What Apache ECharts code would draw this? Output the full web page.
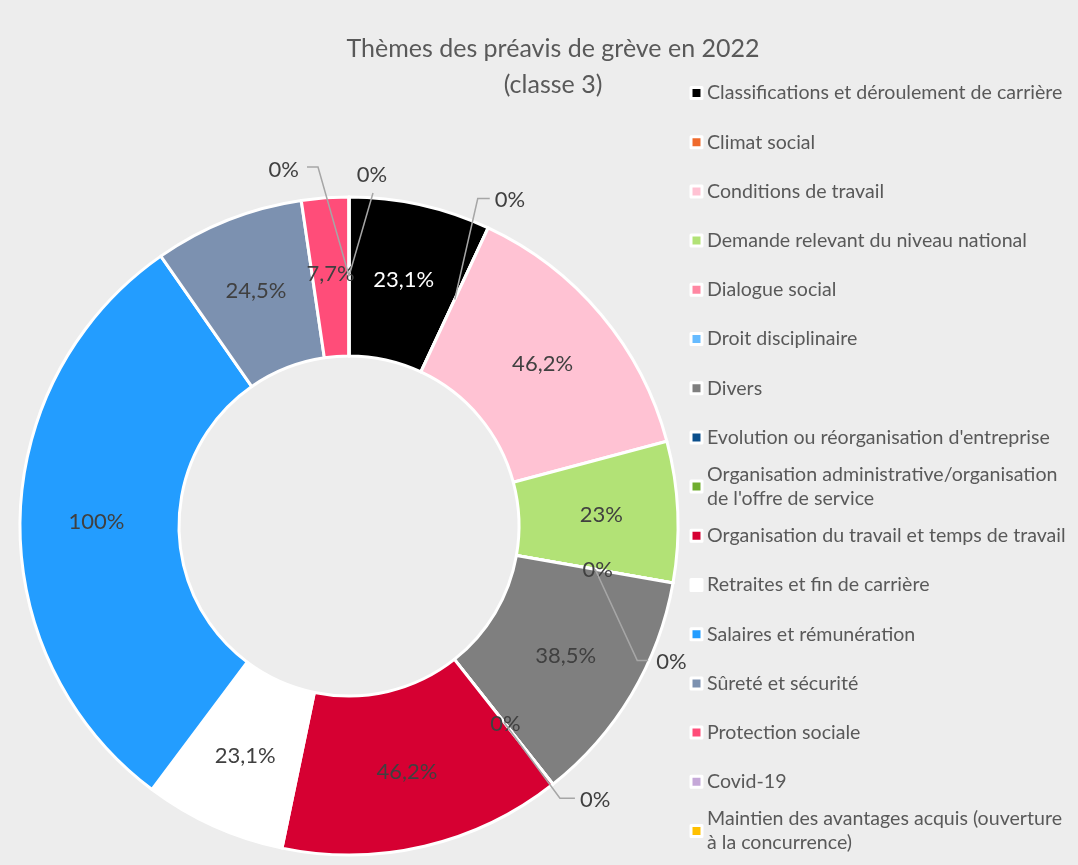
<!DOCTYPE html>
<html>
<head>
<meta charset="utf-8">
<script src="https://cdn.jsdelivr.net/npm/echarts@6/dist/echarts.min.js"></script>
<style>
html,body{margin:0;padding:0;background:#ededed;}
#chart{width:1078px;height:865px;}
</style>
</head>
<body>
<div id="chart"></div>
<script>
const categories = [
  "Classifications et déroulement de carrière",
  "Climat social",
  "Conditions de travail",
  "Demande relevant du niveau national",
  "Dialogue social",
  "Droit disciplinaire",
  "Divers",
  "Evolution ou réorganisation d'entreprise",
  "Organisation administrative/organisation de l'offre de service",
  "Organisation du travail et temps de travail",
  "Retraites et fin de carrière",
  "Salaires et rémunération",
  "Sûreté et sécurité",
  "Protection sociale",
  "Covid-19",
  "Maintien des avantages acquis (ouverture à la concurrence)"
];
const values = [23.1, 0, 46.2, 23, 0, 0, 38.5, 0, 0, 46.2, 23.1, 100, 24.5, 7.7, 0, 0];
const colors = ["#000000","#ef6a2c","#ffc2d3","#b2e276","#ff87a2","#66bbff","#7f7f7f","#0b4f8c",
                "#70ad2f","#d60032","#ffffff","#239dff","#7c91b0","#ff4d79","#c5a8d8","#ffc000"];
const labelPlacement = ["inside","outside","inside","inside","inside","outside","inside","inside",
                        "outside","inside","inside","inside","inside","inside","outside","outside"];
const legendLabels = {
  "Organisation administrative/organisation de l'offre de service": "Organisation administrative/organisation\nde l'offre de service",
  "Maintien des avantages acquis (ouverture à la concurrence)": "Maintien des avantages acquis (ouverture\nà la concurrence)"
};
const titleText = "Thèmes des préavis de grève en 2022\n(classe 3)";

const FONT = "Lato, 'Open Sans', sans-serif";
const fmt = v => String(v).replace('.', ',') + '%';

// pie geometry
const CX = 349, CY = 526, R_IN = 170, R_OUT = 329, R_LEADER = 250;

// leader-line styling for outside labels: elbow offset from leader start, horizontal tail, label offset & alignment
const leaderStyle = {
  1:  { elbow: [23, -101], tail: 12,  text: [5, 1],    align: 'left' },
  5:  { elbow: [42, 91],   tail: 11,  text: [8, 2],    align: 'left' },
  8:  { elbow: [56, 76],   tail: 15,  text: [5, 2],    align: 'left' },
  14: { elbow: [-31, -109],tail: -11, text: [-8, 3],   align: 'right' },
  15: { elbow: [24, -83],  tail: 0,   text: [-1, -18], align: 'center' }
};

const labelFont = { fontFamily: FONT, fontSize: 22, color: '#404040', formatter: p => fmt(p.value) };

// series 1: coloured sectors + inside labels
const sectorData = categories.map((name, i) => ({
  name: name,
  value: values[i],
  itemStyle: { color: colors[i] },
  label: {
    show: labelPlacement[i] === 'inside',
    position: 'inside',
    color: i === 0 ? '#ffffff' : '#404040'
  }
}));

// series 2: transparent overlay carrying outside labels with leader lines (drawn above sectors)
const leaderData = categories.map((name, i) => ({
  name: name,
  value: values[i],
  label: { show: labelPlacement[i] === 'outside', position: 'outside' },
  labelLine: { show: labelPlacement[i] === 'outside' }
}));

const legends = categories.map((name, i) => {
  const wrapped = !!legendLabels[name];
  const center = 93 + i * 49.2;
  return {
    data: [name],
    orient: 'vertical',
    left: 689.5,
    top: center - (wrapped ? 36 : 12),
    padding: 0,
    itemWidth: 11,
    itemHeight: 11,
    itemGap: 0,
    icon: 'rect',
    selectedMode: false,
    itemStyle: { color: colors[i], borderColor: '#ffffff', borderWidth: 3 },
    formatter: n => legendLabels[n] || n,
    textStyle: {
      fontFamily: FONT, fontSize: 19.6, color: '#595959', lineHeight: 24,
      padding: wrapped ? [24, 0, 0, 0] : [0, 0, 0, 0]
    }
  };
});

const chart = echarts.init(document.getElementById('chart'));
chart.setOption({
  backgroundColor: '#ededed',
  animation: false,
  title: {
    text: titleText,
    left: 548,
    top: 26,
    textAlign: 'center',
    textStyle: { fontFamily: FONT, fontSize: 25, fontWeight: 'normal', color: '#595959', lineHeight: 36 }
  },
  legend: legends,
  series: [{
    type: 'pie',
    z: 2,
    center: [CX, CY],
    radius: [R_IN, R_OUT],
    startAngle: 90,
    clockwise: true,
    avoidLabelOverlap: false,
    itemStyle: { borderColor: '#ffffff', borderWidth: 3 },
    label: labelFont,
    labelLine: { show: false },
    data: sectorData
  }, {
    type: 'pie',
    z: 5,
    silent: true,
    center: [CX, CY],
    radius: [R_IN, R_OUT],
    startAngle: 90,
    clockwise: true,
    avoidLabelOverlap: false,
    itemStyle: { color: 'rgba(0,0,0,0)', borderWidth: 0 },
    label: labelFont,
    labelLine: { length: 18, length2: 22, lineStyle: { color: '#a6a6a6', width: 1.5 } },
    labelLayout: function (params) {
      const s = leaderStyle[params.dataIndex];
      if (!s || !params.labelLinePoints) return {};
      const e = params.labelLinePoints[0];
      const k = R_LEADER / Math.hypot(e[0] - CX, e[1] - CY);
      const a = [CX + (e[0] - CX) * k, CY + (e[1] - CY) * k];
      const b = [a[0] + s.elbow[0], a[1] + s.elbow[1]];
      const p = [b[0] + s.tail, b[1]];
      return {
        x: p[0] + s.text[0],
        y: p[1] + s.text[1],
        align: s.align,
        verticalAlign: 'middle',
        labelLinePoints: [a, b, p]
      };
    },
    data: leaderData
  }]
});
</script>
</body>
</html>
